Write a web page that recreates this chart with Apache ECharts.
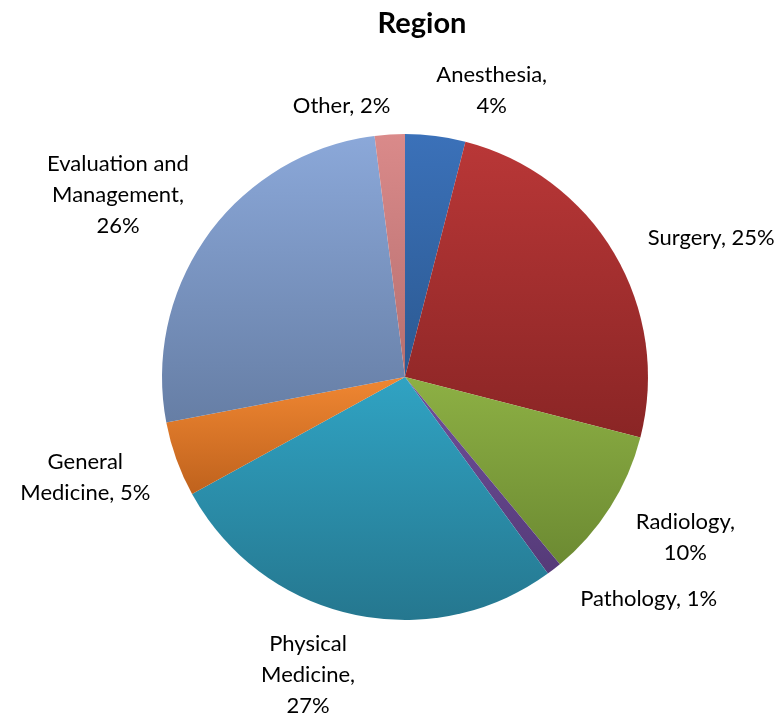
<!DOCTYPE html>
<html>
<head>
<meta charset="utf-8">
<script src="https://cdn.jsdelivr.net/npm/echarts@6/dist/echarts.min.js"></script>
<style>
  html, body { margin: 0; padding: 0; background: #fff; }
  #chart { width: 775px; height: 721px; }
</style>
</head>
<body>
<div id="chart"></div>
<script>
// data (percent of total)
var categories = ['Anesthesia', 'Surgery', 'Radiology', 'Pathology', 'Physical Medicine', 'General Medicine', 'Evaluation and Management', 'Other']
var values = [4, 25, 10, 1, 27, 5, 26, 2]
// label text as wrapped in the original
var labelNames = ['Anesthesia,\n', 'Surgery, ', 'Radiology,\n', 'Pathology, ', 'Physical\nMedicine,\n', 'General\nMedicine, ', 'Evaluation and\nManagement,\n', 'Other, ']

// top/bottom colours of each slice gradient
var topColors = ['#3b71b9', '#b93737', '#8db044', '#70509b', '#30a3c3', '#f08732', '#8ba8d9', '#da8a8a']
var bottomColors = ['#2b5991', '#8a2525', '#6c8a32', '#553a78', '#25778f', '#bf621d', '#667ea5', '#b66f6f']

// pie geometry
var cx = 405, cy = 377, R = 243
var labelGap = 50
// extra shift of each label from the point on its slice's mid-angle ray (excel "best fit")
var labelShift = [[50, 4], [54, 10], [33, 3], [64, -10], [-33, 12], [-44, 1], [-50, -10], [-45, 21]]

function grad(i) {
  return new echarts.graphic.LinearGradient(0, 0, 0, 1, [
    { offset: 0, color: topColors[i] },
    { offset: 1, color: bottomColors[i] }
  ])
}

var total = values.reduce(function (a, b) { return a + b }, 0)
function midAngle(i) {
  var before = 0
  for (var k = 0; k < i; k++) before += values[k]
  return (before + values[i] / 2) / total * Math.PI * 2
}

var chart = echarts.init(document.getElementById('chart'))

var seriesData = categories.map(function (name, i) {
  return {
    name: name,
    value: values[i],
    itemStyle: { color: grad(i) },
    label: {
      formatter: labelNames[i] + values[i] + '%'
    }
  }
})

chart.setOption({
  animation: false,
  title: {
    text: 'Region',
    left: 417,
    top: 4,
    textAlign: 'center',
    textStyle: {
      fontFamily: 'Lato',
      fontWeight: 'bold',
      fontSize: 29,
      color: '#000'
    }
  },
  series: [
    {
      type: 'pie',
      center: [cx, cy],
      radius: R,
      startAngle: 90,
      clockwise: true,
      avoidLabelOverlap: false,
      itemStyle: {
        borderWidth: 0
      },
      label: {
        show: true,
        position: 'outside',
        fontFamily: 'Lato',
        fontSize: 22,
        lineHeight: 31,
        color: '#000'
      },
      labelLine: {
        show: false,
        length: 20,
        length2: 10
      },
      labelLayout: function (params) {
        var i = params.dataIndex
        var a = midAngle(i)
        return {
          x: cx + Math.sin(a) * (R + labelGap) + labelShift[i][0],
          y: cy - Math.cos(a) * (R + labelGap) + labelShift[i][1],
          align: 'center',
          verticalAlign: 'middle'
        }
      },
      data: seriesData
    }
  ]
})
</script>
</body>
</html>
